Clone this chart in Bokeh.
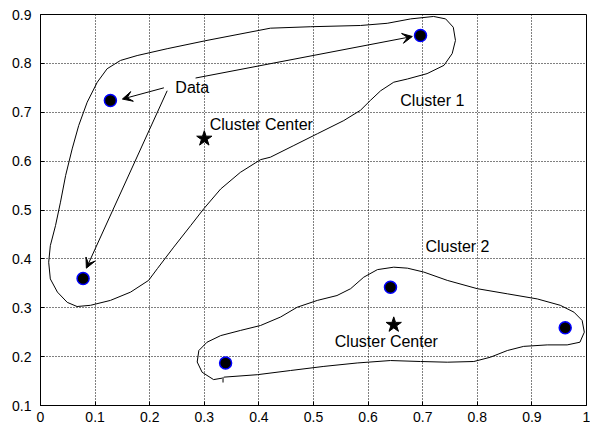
from bokeh.plotting import figure
from bokeh.models import Range1d, FixedTicker, Arrow, VeeHead, ColumnDataSource
from bokeh.core.properties import value
from bokeh.embed import file_html
from bokeh.resources import INLINE

# ---- data ----
data_x = [0.128, 0.696, 0.078, 0.339, 0.641, 0.961]
data_y = [0.724, 0.857, 0.360, 0.187, 0.342, 0.259]

center_x = [0.300, 0.647]
center_y = [0.646, 0.265]

label_text = ["Data", "Cluster Center", "Cluster 1", "Cluster 2", "Cluster Center"]
label_x = [0.247, 0.310, 0.659, 0.705, 0.539]
label_y = [0.750, 0.675, 0.724, 0.425, 0.231]

arrow_x0 = [0.226, 0.232, 0.284]
arrow_y0 = [0.750, 0.744, 0.770]
arrow_x1 = [0.150, 0.084, 0.681]
arrow_y1 = [0.727, 0.381, 0.855]

cluster1_x = [0.1465, 0.177, 0.232, 0.305, 0.421, 0.495, 0.586, 0.635, 0.678, 0.720, 0.742,
              0.756, 0.760, 0.754, 0.739, 0.708, 0.672, 0.647, 0.623, 0.604, 0.586, 0.5555,
              0.507, 0.464, 0.421, 0.403, 0.366, 0.330, 0.299, 0.275, 0.244, 0.214, 0.198,
              0.165, 0.128, 0.0916, 0.067, 0.049, 0.031, 0.018, 0.015, 0.018, 0.0275, 0.0366,
              0.046, 0.058, 0.070, 0.0855, 0.104, 0.122, 0.1465]
cluster1_y = [0.806, 0.816, 0.830, 0.847, 0.872, 0.875, 0.8775, 0.882, 0.891, 0.896, 0.891,
              0.874, 0.847, 0.820, 0.796, 0.779, 0.768, 0.7615, 0.744, 0.724, 0.704, 0.683,
              0.656, 0.632, 0.608, 0.603, 0.577, 0.543, 0.5025, 0.468, 0.424, 0.380, 0.356,
              0.332, 0.315, 0.305, 0.3025, 0.311, 0.332, 0.359, 0.393, 0.427, 0.468, 0.516,
              0.5705, 0.625, 0.673, 0.7205, 0.7615, 0.789, 0.806]

cluster2_x = [0.3357, 0.397, 0.458, 0.519, 0.580, 0.641, 0.696, 0.745, 0.7936, 0.824, 0.855,
              0.885, 0.928, 0.9646, 0.988, 0.996, 0.992, 0.977, 0.952, 0.910, 0.855, 0.800,
              0.745, 0.702, 0.672, 0.647, 0.617, 0.592, 0.568, 0.543, 0.507, 0.470, 0.4396,
              0.403, 0.366, 0.330, 0.305, 0.290, 0.287, 0.296, 0.317, 0.3328]
cluster2_y = [0.158, 0.163, 0.1716, 0.180, 0.187, 0.192, 0.190, 0.1886, 0.190, 0.1988, 0.2125,
              0.221, 0.224, 0.224, 0.2295, 0.250, 0.274, 0.291, 0.305, 0.318, 0.3285, 0.339,
              0.356, 0.373, 0.381, 0.383, 0.378, 0.3625, 0.339, 0.325, 0.315, 0.301, 0.281,
              0.2637, 0.2535, 0.243, 0.2295, 0.2125, 0.189, 0.168, 0.153, 0.156]
cluster2_tick_x = [0.3343, 0.3343]
cluster2_tick_y = [0.158, 0.147]

x_ticks = [0, 0.1, 0.2, 0.3, 0.4, 0.5, 0.6, 0.7, 0.8, 0.9, 1.0]
x_tick_labels = ["0", "0.1", "0.2", "0.3", "0.4", "0.5", "0.6", "0.7", "0.8", "0.9", "1"]
y_ticks = [0.1, 0.2, 0.3, 0.4, 0.5, 0.6, 0.7, 0.8, 0.9]
y_tick_labels = ["0.1", "0.2", "0.3", "0.4", "0.5", "0.6", "0.7", "0.8", "0.9"]

FONT = "Liberation Sans"

p = figure(width=590, height=427, output_backend="svg", toolbar_location=None,
           x_range=Range1d(0, 1), y_range=Range1d(0.1, 0.9),
           min_border_left=40, min_border_right=4, min_border_top=14, min_border_bottom=22)
p.background_fill_color = "white"
p.border_fill_color = "white"
p.outline_line_color = "black"
p.outline_line_width = 1
p.outline_line_alpha = 1

for ax, ticks, labels in ((p.xaxis[0], x_ticks, x_tick_labels), (p.yaxis[0], y_ticks, y_tick_labels)):
    ax.ticker = FixedTicker(ticks=ticks)
    ax.major_label_overrides = {t: l for t, l in zip(ticks, labels)}
    ax.minor_tick_line_color = None
    ax.major_tick_in = 4
    ax.major_tick_out = 0
    ax.axis_line_color = "black"
    ax.major_tick_line_color = "black"
    ax.major_label_text_font = FONT
    ax.major_label_text_font_size = "14px"
    ax.major_label_text_color = "black"
p.xaxis.major_label_standoff = 6
p.yaxis.major_label_standoff = 9

for g in (p.xgrid[0], p.ygrid[0]):
    g.grid_line_color = "black"
    g.grid_line_alpha = 1
    g.grid_line_width = 1
    g.grid_line_dash = "1 2"
p.xgrid.ticker = FixedTicker(ticks=x_ticks)
p.ygrid.ticker = FixedTicker(ticks=y_ticks)

# cluster outlines
p.line(cluster1_x, cluster1_y, line_color="black", line_width=1, line_join="round")
p.line(cluster2_x, cluster2_y, line_color="black", line_width=1, line_join="round")
p.line(cluster2_tick_x, cluster2_tick_y, line_color="black", line_width=1)

# arrows
asrc = ColumnDataSource(dict(x0=arrow_x0, y0=arrow_y0, x1=arrow_x1, y1=arrow_y1))
p.add_layout(Arrow(source=asrc, x_start="x0", y_start="y0", x_end="x1", y_end="y1",
                   line_color="black", line_width=1,
                   end=VeeHead(size=10, fill_color="black", line_color="black", line_width=1)))

# points
p.scatter(data_x, data_y, marker="circle", size=12, fill_color="black",
          line_color="#0000ff", line_width=1.5)
p.scatter(center_x, center_y, marker="star", size=16, fill_color="black", line_color="black")

# labels
p.text(label_x, label_y, text=label_text, text_font=value(FONT), text_font_size="16px",
       text_align="left", text_baseline="middle", text_color="black")

open("out.html", "w").write(file_html(p, INLINE))
